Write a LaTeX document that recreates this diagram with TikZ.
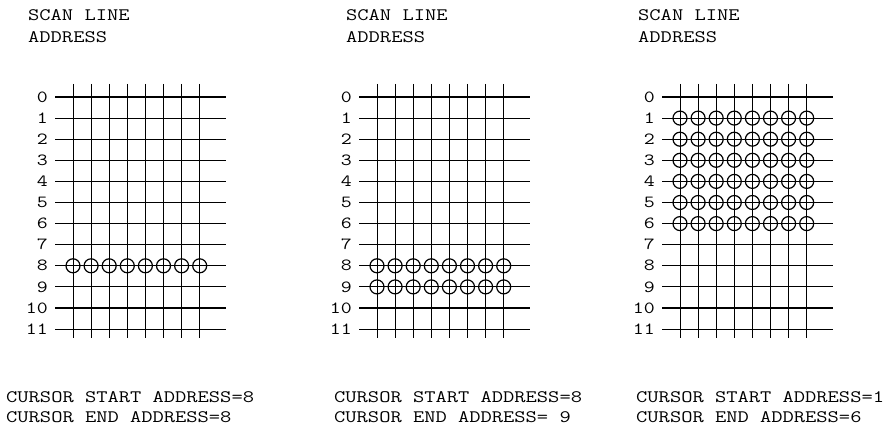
\documentclass[tikz,border=0pt]{standalone}
\usepackage{fontspec}
\newfontfamily\tw[FakeStretch=1.25]{Latin Modern Mono}
\begin{document}
\begin{tikzpicture}[x=1pt,y=-1pt,
  lbl/.style={font=\tw\fontsize{17.5}{22}\selectfont, anchor=base west, inner sep=0},
  num/.style={font=\tw\fontsize{17}{20}\selectfont, anchor=east, inner sep=0},
  hline/.style={line width=1.1pt},
  vline/.style={line width=0.7pt},
  dot/.style={circle, draw, line width=1.2pt, minimum size=14pt, inner sep=0}]
\useasboundingbox (0,0) rectangle (895,425);
\foreach \p/\ox in {1/0,2/304,3/607} {
  \foreach \r in {0,...,11} {
    \draw[hline] (\ox+55, 97+21.1*\r) -- (\ox+226, 97+21.1*\r);
    \node[num] (n\p-\r) at (\ox+48, 97+21.1*\r) {\r};
  }
  \foreach \c in {0,...,7} \draw[vline] (\ox+73+18.1*\c, 84) -- (\ox+73+18.1*\c, 338);
}
% circles
\foreach \c in {0,...,7} \node[dot] (a-8-\c) at (73+18.1*\c, 97+21.1*8) {};
\foreach \r in {8,9} \foreach \c in {0,...,7} \node[dot] (b-\r-\c) at (304+73+18.1*\c, 97+21.1*\r) {};
\foreach \r in {1,...,6} \foreach \c in {0,...,7} \node[dot] (c-\r-\c) at (607+73+18.1*\c, 97+21.1*\r) {};
% headings
\node[lbl] (h1a) at (28,20.7) {SCAN LINE};
\node[lbl] (h1b) at (28,42.3) {ADDRESS};
\node[lbl] (h2a) at (346,20.7) {SCAN LINE};
\node[lbl] (h2b) at (346,42.3) {ADDRESS};
\node[lbl] (h3a) at (638,20.7) {SCAN LINE};
\node[lbl] (h3b) at (638,42.3) {ADDRESS};
% captions
\node[lbl] (f1a) at (6,402) {CURSOR START ADDRESS=8};
\node[lbl] (f1b) at (6,422) {CURSOR END ADDRESS=8};
\node[lbl] (f2a) at (334,402) {CURSOR START ADDRESS=8};
\node[lbl] (f2b) at (334,422) {CURSOR END ADDRESS= 9};
\node[lbl] (f3a) at (636,402) {CURSOR START ADDRESS=1};
\node[lbl] (f3b) at (636,422) {CURSOR END ADDRESS=6};
\end{tikzpicture}
\end{document}
